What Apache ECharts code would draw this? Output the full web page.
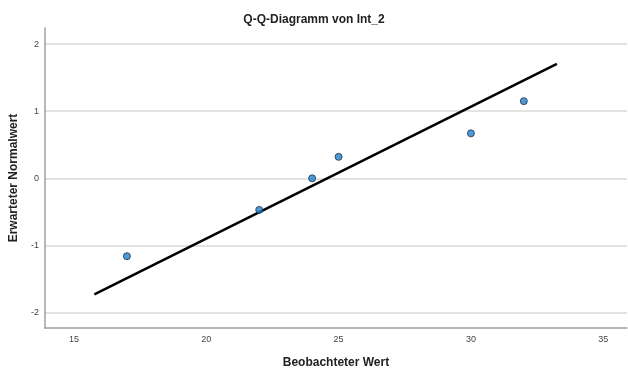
<!DOCTYPE html>
<html>
<head>
<meta charset="utf-8">
<script src="https://cdn.jsdelivr.net/npm/echarts@6/dist/echarts.min.js"></script>
<style>html,body{margin:0;padding:0;background:#fff}#c{width:628px;height:374px}</style>
</head>
<body>
<div id="c"></div>
<script>
const titleText = 'Q-Q-Diagramm von Int_2';
const xName = 'Beobachteter Wert';
const yName = 'Erwarteter Normalwert';
const observed = [17, 22, 24, 25, 30, 32];
const expected = [-1.16, -0.47, 0.0, 0.32, 0.67, 1.15];
const lineX = [15.77, 33.25];
const lineY = [-1.73, 1.707];
const xTicks = [15, 20, 25, 30, 35];
const yTicks = [-2, -1, 0, 1, 2];

const font = 'Liberation Sans, Arial, sans-serif';
const chart = echarts.init(document.getElementById('c'), null, {renderer: 'canvas'});
chart.setOption({
  animation: false,
  backgroundColor: '#fff',
  title: {text: titleText, left: 'center', top: 9,
    textStyle: {fontFamily: font, fontSize: 12, fontWeight: 'bold', color: '#222'}},
  grid: {left: 44, right: 1, top: 28, bottom: 42, containLabel: false},
  xAxis: {
    type: 'value', min: 13.9, max: 35.9,
    name: xName, nameLocation: 'middle', nameGap: 29,
    nameTextStyle: {fontFamily: font, fontSize: 12, fontWeight: 'bold', color: '#222'},
    axisLine: {show: true, onZero: false, lineStyle: {color: '#a0a0a0', width: 1.5}},
    axisTick: {show: false, customValues: xTicks},
    axisLabel: {customValues: xTicks, fontFamily: font, fontSize: 9, color: '#444', margin: 7},
    splitLine: {show: false}
  },
  yAxis: {
    type: 'value', min: -2.23, max: 2.24,
    name: yName, nameLocation: 'middle', nameGap: 16,
    nameTextStyle: {fontFamily: font, fontSize: 12, fontWeight: 'bold', color: '#222'},
    axisLine: {show: true, onZero: false, lineStyle: {color: '#a0a0a0', width: 1.5}},
    axisTick: {show: false, customValues: yTicks},
    axisLabel: {customValues: yTicks, fontFamily: font, fontSize: 9, color: '#444', margin: 6},
    splitLine: {show: true, lineStyle: {color: '#d9d9d9', width: 1.5}}
  },
  series: [
    {
      type: 'line', data: lineX.map((x, i) => [x, lineY[i]]),
      symbol: 'none', lineStyle: {color: '#000', width: 2.5}, z: 2
    },
    {
      type: 'scatter', data: observed.map((x, i) => [x, expected[i]]),
      symbol: 'circle', symbolSize: 7,
      itemStyle: {color: '#1f7fcf', borderColor: '#1f2f45', borderWidth: 1}, z: 3
    }
  ]
});
</script>
</body>
</html>
